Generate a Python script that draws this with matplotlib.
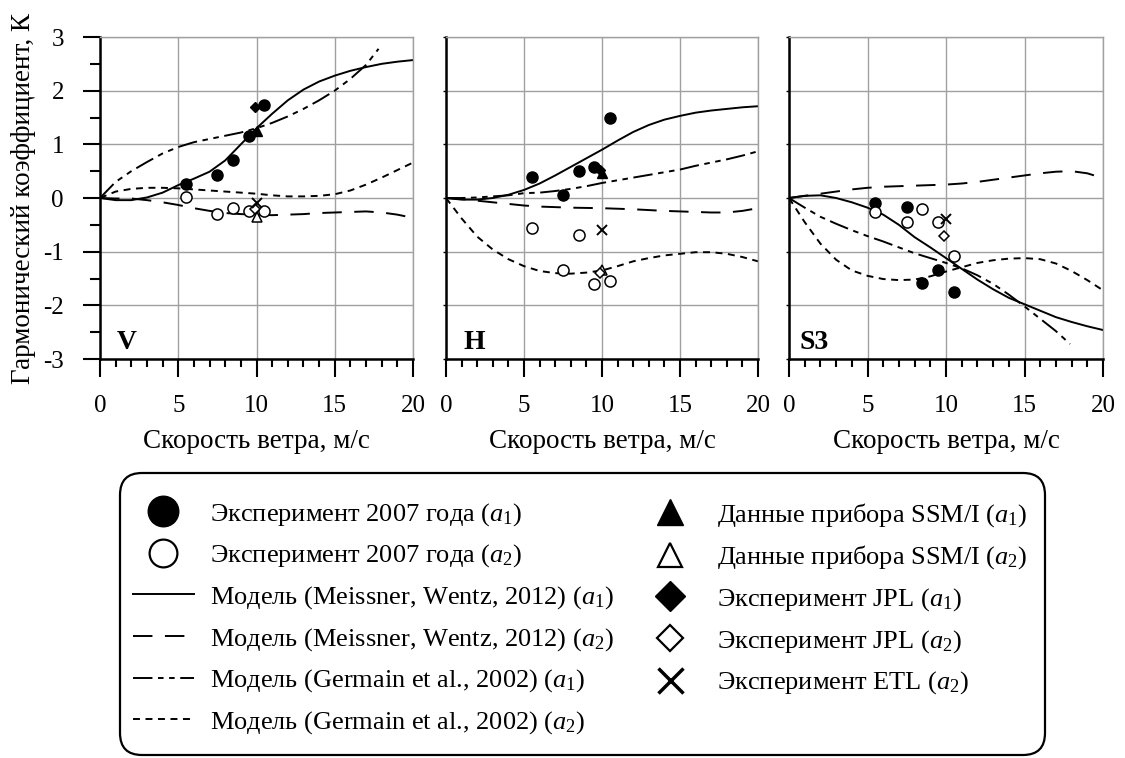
import matplotlib
matplotlib.use("Agg")
import matplotlib.pyplot as plt
from matplotlib.lines import Line2D
from matplotlib.patches import FancyBboxPatch
from matplotlib.ticker import MultipleLocator

plt.rcParams['font.family'] = ['Liberation Serif', 'DejaVu Serif']
plt.rcParams['mathtext.fontset'] = 'custom'
plt.rcParams['mathtext.rm'] = 'Liberation Serif'
plt.rcParams['mathtext.it'] = 'Liberation Serif:italic'
plt.rcParams['lines.scale_dashes'] = False
plt.rcParams['axes.unicode_minus'] = False

# wind speed grid for the model curves, m/s
wind = list(range(21))

# --- V polarisation ---
V_meissner_a1 = [0, -0.04, -0.04, 0.01, 0.10, 0.24, 0.36, 0.49, 0.70, 1.00, 1.30,
                 1.57, 1.82, 2.02, 2.17, 2.28, 2.37, 2.44, 2.50, 2.54, 2.57]
V_meissner_a2 = [0, -0.01, -0.01, -0.04, -0.08, -0.13, -0.19, -0.24, -0.28, -0.30, -0.31,
                 -0.32, -0.31, -0.30, -0.28, -0.27, -0.26, -0.25, -0.27, -0.31, -0.37]
V_germain_a1 = [0, 0.30, 0.50, 0.67, 0.83, 0.95, 1.04, 1.10, 1.16, 1.22, 1.30,
                1.40, 1.52, 1.66, 1.82, 2.00, 2.22, 2.48, 2.78]
V_germain_a2 = [0, 0.12, 0.17, 0.19, 0.19, 0.18, 0.16, 0.14, 0.12, 0.10, 0.08,
                0.05, 0.03, 0.03, 0.04, 0.07, 0.14, 0.25, 0.38, 0.52, 0.66]
germain_a1_wind_V = [0, 1, 2, 3, 4, 5, 6, 7, 8, 9, 10, 11, 12, 13, 14, 15, 16, 17, 17.8]

# --- H polarisation ---
H_meissner_a1 = [0, -0.03, -0.03, 0.00, 0.06, 0.15, 0.27, 0.42, 0.58, 0.74, 0.90,
                 1.07, 1.23, 1.36, 1.46, 1.53, 1.59, 1.63, 1.66, 1.69, 1.71]
H_meissner_a2 = [0, -0.02, -0.05, -0.08, -0.11, -0.14, -0.16, -0.17, -0.18, -0.185, -0.19,
                 -0.20, -0.21, -0.225, -0.24, -0.25, -0.26, -0.27, -0.27, -0.24, -0.19]
H_germain_a1 = [0, 0.00, 0.01, 0.03, 0.05, 0.09, 0.10, 0.13, 0.17, 0.22, 0.28,
                0.33, 0.38, 0.43, 0.48, 0.53, 0.60, 0.66, 0.72, 0.79, 0.87]
H_germain_a2 = [0, -0.38, -0.72, -0.96, -1.14, -1.27, -1.36, -1.40, -1.41, -1.39, -1.35,
                -1.27, -1.18, -1.12, -1.07, -1.04, -1.01, -1.01, -1.04, -1.10, -1.18]

# --- third Stokes parameter ---
S3_meissner_a1 = [0, 0.04, 0.05, 0.00, -0.08, -0.18, -0.31, -0.50, -0.73, -0.92, -1.12,
                  -1.32, -1.52, -1.70, -1.86, -1.98, -2.10, -2.22, -2.31, -2.39, -2.46]
S3_meissner_a2 = [0, 0.04, 0.08, 0.12, 0.16, 0.19, 0.21, 0.22, 0.23, 0.24, 0.25,
                  0.27, 0.30, 0.34, 0.38, 0.42, 0.46, 0.49, 0.50, 0.46, 0.37]
S3_germain_a1 = [0, -0.18, -0.35, -0.48, -0.60, -0.71, -0.81, -0.92, -1.03, -1.12, -1.21,
                 -1.31, -1.44, -1.60, -1.80, -2.02, -2.25, -2.48, -2.72]
S3_germain_a2 = [0, -0.45, -0.85, -1.15, -1.35, -1.45, -1.51, -1.53, -1.52, -1.46, -1.37,
                 -1.29, -1.21, -1.16, -1.13, -1.12, -1.14, -1.22, -1.36, -1.53, -1.72]
germain_a1_wind_S3 = [0, 1, 2, 3, 4, 5, 6, 7, 8, 9, 10, 11, 12, 13, 14, 15, 16, 17, 17.9]

# --- experiment 2007 ---
exp_wind = [5.5, 7.5, 8.5, 9.5, 10.5]
V_exp_a1 = [0.26, 0.42, 0.70, 1.16, 1.74]
V_exp_a2 = [0.01, -0.30, -0.19, -0.25, -0.25]
H_exp_a1 = [0.39, 0.06, 0.50, 0.58, 1.50]
H_exp_a2 = [-0.55, -1.34, -0.69, -1.60, -1.54]
S3_exp_a1 = [-0.10, -0.16, -1.58, -1.35, -1.75]
S3_exp_a2 = [-0.26, -0.44, -0.20, -0.45, -1.09]

# --- other sources, order V, H, S3 (None = no value) ---
ssmi_wind = 10
ssmi_a1 = [1.25, 0.47, None]
ssmi_a2 = [-0.35, -1.35, None]
jpl_wind = 9.9
jpl_a1 = [1.70, 0.52, None]
jpl_a2 = [-0.20, -1.40, -0.70]
etl_wind = 10
etl_a2 = [-0.09, -0.60, -0.40]

panel_names = ['V', 'H', 'S3']
panel_label_x = [0.054, 0.055, 0.032]

ls_solid = '-'
ls_long = (0, (14, 9))
ls_dashdot = (0, (14, 4, 4, 4, 4, 4))
ls_short = (0, (5, 4))
lw = 1.4

fig = plt.figure(figsize=(11.25, 7.58), dpi=100)
lefts = [100, 446, 789]
widths = [313, 312, 314]

series = [
    (V_meissner_a1, V_meissner_a2, germain_a1_wind_V, V_germain_a1, V_germain_a2, V_exp_a1, V_exp_a2),
    (H_meissner_a1, H_meissner_a2, wind, H_germain_a1, H_germain_a2, H_exp_a1, H_exp_a2),
    (S3_meissner_a1, S3_meissner_a2, germain_a1_wind_S3, S3_germain_a1, S3_germain_a2, S3_exp_a1, S3_exp_a2),
]

for i, (m1, m2, gw, g1, g2, e1, e2) in enumerate(series):
    ax = fig.add_axes([lefts[i] / 1125, 1 - 359 / 758, widths[i] / 1125, 322 / 758])
    ax.plot(wind, m1, color='k', lw=lw, ls=ls_solid)
    ax.plot(wind, m2, color='k', lw=lw, ls=ls_long)
    ax.plot(gw, g1, color='k', lw=lw, ls=ls_dashdot)
    ax.plot(wind, g2, color='k', lw=lw, ls=ls_short)

    ax.plot(exp_wind, e1, 'o', color='k', ms=8, zorder=5)
    ax.plot(exp_wind, e2, 'o', mfc='w', mec='k', mew=1.1, ms=8, zorder=5)
    if ssmi_a1[i] is not None:
        ax.plot([ssmi_wind], [ssmi_a1[i]], '^', color='k', ms=7, zorder=5)
    if ssmi_a2[i] is not None:
        ax.plot([ssmi_wind], [ssmi_a2[i]], '^', mfc='w', mec='k', mew=1.1, ms=7, zorder=5)
    if jpl_a1[i] is not None:
        ax.plot([jpl_wind], [jpl_a1[i]], 'D', color='k', ms=5.5, zorder=5)
    if jpl_a2[i] is not None:
        ax.plot([jpl_wind], [jpl_a2[i]], 'D', mfc='w', mec='k', mew=1.1, ms=5.5, zorder=5)
    ax.plot([etl_wind], [etl_a2[i]], 'x', color='k', ms=7, mew=1.4, zorder=6)

    ax.set_xlim(0, 20)
    ax.set_ylim(-3, 3)
    ax.xaxis.set_major_locator(MultipleLocator(5))
    ax.xaxis.set_minor_locator(MultipleLocator(1))
    ax.yaxis.set_major_locator(MultipleLocator(1))
    ax.grid(which='major', color='#a0a0a0', lw=1.0)
    ax.set_axisbelow(True)
    for s in ['top', 'right']:
        ax.spines[s].set_color('#a0a0a0')
        ax.spines[s].set_linewidth(1.0)
    for s in ['left', 'bottom']:
        ax.spines[s].set_color('k')
        ax.spines[s].set_linewidth(1.8)
    ax.tick_params(axis='x', which='major', direction='out', length=13, width=1.5,
                   labelsize=18, pad=13)
    ax.tick_params(axis='x', which='minor', direction='out', length=5.5, width=1.5)
    if i == 0:
        ax.yaxis.set_minor_locator(MultipleLocator(0.5))
        ax.tick_params(axis='y', which='major', direction='out', length=12, width=1.5,
                       labelsize=18, pad=14)
        ax.tick_params(axis='y', which='minor', direction='out', length=7, width=1.5)
        ax.set_ylabel('Гармонический коэффициент, К', fontsize=19.5, labelpad=5)
    else:
        ax.tick_params(axis='y', which='major', direction='out', length=2, width=1.0,
                       labelleft=False)
    ax.set_xlabel('Скорость ветра, м/с', fontsize=19.5, labelpad=8.5)
    ax.text(panel_label_x[i], 0.03, panel_names[i], transform=ax.transAxes,
            fontsize=20, fontweight='bold', ha='left', va='baseline')

# legend frame (inches from bottom-left)
box = FancyBboxPatch((1.20, 0.03), 9.25, 2.82, boxstyle='round,pad=0,rounding_size=0.22',
                     transform=fig.dpi_scale_trans, fc='w', ec='k', lw=1.6, zorder=0)
fig.patches.append(box)

left_handles = [
    Line2D([], [], marker='o', ls='none', color='k', ms=22),
    Line2D([], [], marker='o', ls='none', mfc='w', mec='k', mew=1.6, ms=20),
    Line2D([], [], color='k', lw=lw, ls=ls_solid),
    Line2D([], [], color='k', lw=lw, ls=ls_long),
    Line2D([], [], color='k', lw=lw, ls=ls_dashdot),
    Line2D([], [], color='k', lw=lw, ls=ls_short),
]
left_labels = [
    'Эксперимент 2007 года ($\\mathit{a_1}$)',
    'Эксперимент 2007 года ($\\mathit{a_2}$)',
    'Модель (Meissner, Wentz, 2012) ($\\mathit{a_1}$)',
    'Модель (Meissner, Wentz, 2012) ($\\mathit{a_2}$)',
    'Модель (Germain et al., 2002) ($\\mathit{a_1}$)',
    'Модель (Germain et al., 2002) ($\\mathit{a_2}$)',
]
right_handles = [
    Line2D([], [], marker='^', ls='none', color='k', ms=19),
    Line2D([], [], marker='^', ls='none', mfc='w', mec='k', mew=1.6, ms=17),
    Line2D([], [], marker='D', ls='none', color='k', ms=15),
    Line2D([], [], marker='D', ls='none', mfc='w', mec='k', mew=1.6, ms=13),
    Line2D([], [], marker='x', ls='none', color='k', ms=18, mew=2.5),
]
right_labels = [
    'Данные прибора SSM/I ($\\mathit{a_1}$)',
    'Данные прибора SSM/I ($\\mathit{a_2}$)',
    'Эксперимент JPL ($\\mathit{a_1}$)',
    'Эксперимент JPL ($\\mathit{a_2}$)',
    'Эксперимент ETL ($\\mathit{a_2}$)',
]

common = dict(frameon=False, fontsize=19, handlelength=2.3, handletextpad=0.62,
              labelspacing=0.56, borderpad=0, borderaxespad=0, loc='upper left')
fig.legend(left_handles, left_labels, bbox_to_anchor=(133 / 1125, 1 - 501 / 758), **common)
fig.legend(right_handles, right_labels, bbox_to_anchor=(640 / 1125, 1 - 501 / 758), **common)

fig.savefig('out.png', dpi=100)
